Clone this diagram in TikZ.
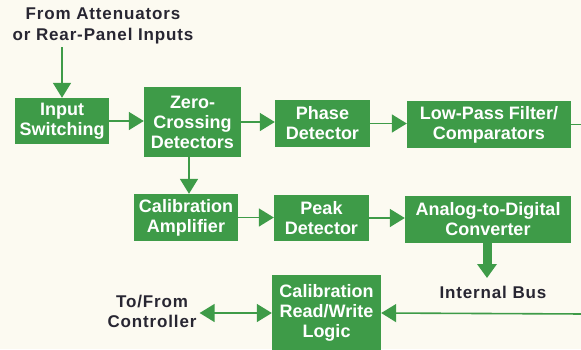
\documentclass[tikz,border=0pt]{standalone}
\usepackage{fontspec}
\setmainfont{Liberation Sans}
\newfontfamily\labelfont[LetterSpace=5]{Liberation Sans}
\usepackage{tikz}
\usetikzlibrary{arrows.meta,positioning,calc}

\definecolor{hpgreen}{RGB}{62,155,72}
\definecolor{paper}{RGB}{252,250,241}
\definecolor{ink}{RGB}{40,38,50}

\tikzset{
	blockbox/.style={fill=hpgreen, text=white, font=\bfseries\fontsize{18}{20}\selectfont,
		align=center, inner sep=0pt},
	outlabel/.style={text=ink, font=\labelfont\bfseries\fontsize{17}{20.5}\selectfont, align=center, inner sep=3pt},
	flow/.style={draw=hpgreen, line width=1.6pt, -{Triangle[length=15pt,width=18pt]}},
	wire/.style={draw=hpgreen, line width=1.6pt},
	busflow/.style={draw=hpgreen, line width=9pt, -{Triangle[length=14pt,width=19pt]}}
}

\begin{document}
\begin{tikzpicture}[x=1pt,y=-1pt]
	\clip (0,0) rectangle (581,349);
	\fill[paper] (0,0) rectangle (581,349);

	% top row
	\node[outlabel] (src) at (103,26) {From Attenuators\\or Rear-Panel Inputs};
	\node[blockbox, minimum width=94pt, minimum height=46pt] (insw) at (62,121) {Input\\Switching};
	\node[blockbox, minimum width=97pt, minimum height=70pt] (zero) at (192.5,122) {Zero-\\Crossing\\Detectors};
	\node[blockbox, minimum width=95pt, minimum height=47pt] (phase) at (322.5,123.5) {Phase\\Detector};
	\node[blockbox, minimum width=164pt, minimum height=47pt] (lpf) at (489,124.5) {Low-Pass Filter/\\Comparators};
	\coordinate (lpfout) at (585,124.5);

	% middle row
	\node[blockbox, minimum width=104pt, minimum height=47pt] (calamp) at (186,217.5) {Calibration\\Amplifier};
	\node[blockbox, minimum width=95pt, minimum height=46pt] (peak) at (321.5,218) {Peak\\Detector};
	\node[blockbox, minimum width=166pt, minimum height=47pt] (adc) at (488,219.5) {Analog-to-Digital\\Converter};

	% bottom row
	\node[outlabel] (bus) at (493,292) {Internal Bus};
	\coordinate (bustip) at (487,278);
	\coordinate (busin) at (585,314);
	\node[blockbox, minimum width=109pt, minimum height=76pt] (rwl) at (326.5,313) {Calibration\\Read/Write\\Logic};
	\node[outlabel] (ctrl) at (152,311.5) {To/From\\Controller};

	% connections
	\draw[flow] (insw.north |- src.south) -- (insw.north);
	\draw[flow] (insw.east) -- (insw.east -| zero.west);
	\draw[flow] (zero.east) -- (zero.east -| phase.west);
	\draw[flow] (phase.east) -- (phase.east -| lpf.west);
	\draw[wire] (lpf.east) -- (lpfout);
	\draw[flow] ([xshift=-3.5pt]zero.south) -- ([xshift=-3.5pt]zero.south |- calamp.north);
	\draw[flow] (calamp.east) -- (calamp.east -| peak.west);
	\draw[flow] (peak.east) -- (peak.east -| adc.west);
	\draw[busflow] (adc.south -| bustip) -- (bustip);
	\draw[flow] (busin) -- (rwl.east);
	\draw[flow, {Triangle[length=15pt,width=18pt]}-{Triangle[length=15pt,width=18pt]}] (ctrl.east |- rwl) -- (rwl.west);
\end{tikzpicture}
\end{document}
